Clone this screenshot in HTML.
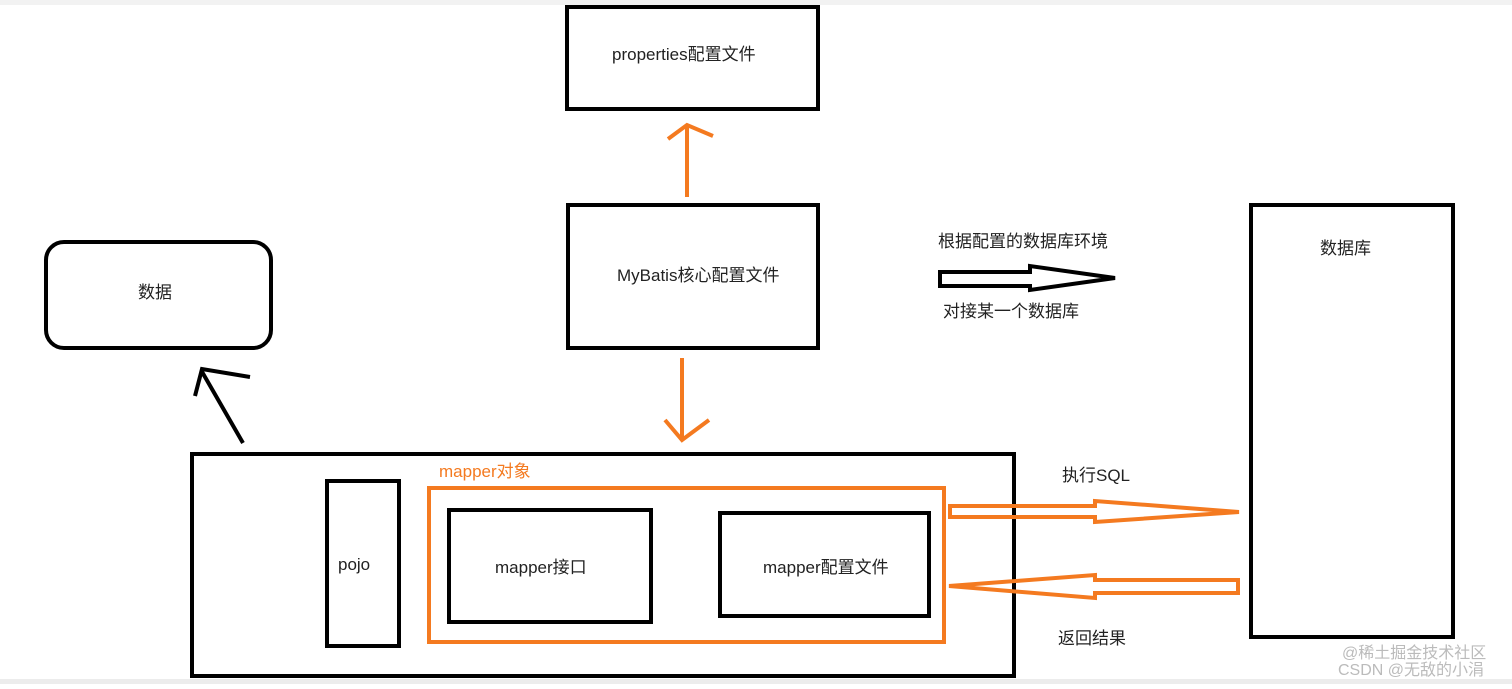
<!DOCTYPE html>
<html><head><meta charset="utf-8"><style>
body{margin:0;background:#fff;width:1512px;height:684px;overflow:hidden}
text{font-family:"Liberation Sans","Noto Sans CJK SC",sans-serif;font-size:17px;fill:#222}
</style></head><body>
<svg width="1512" height="684" xmlns="http://www.w3.org/2000/svg">
<rect x="0" y="0" width="1512" height="5" fill="#f2f2f2"/>
<rect x="0" y="679" width="1512" height="5" fill="#ececec"/>
<g fill="none" stroke="#000" stroke-width="4">
<rect x="567" y="7" width="251" height="102"/>
<rect x="568" y="205" width="250" height="143"/>
<rect x="46" y="242" width="225" height="106" rx="18"/>
<rect x="1251" y="205" width="202" height="432"/>
<rect x="192" y="454" width="822" height="222"/>
<rect x="327" y="481" width="72" height="165"/>
<rect x="449" y="510" width="202" height="112"/>
<rect x="720" y="513" width="209" height="103"/>
<path d="M243 443 L201 370 M195 396 L202 369 L250 377" stroke-width="4"/>
<path d="M940 272 H1030 V266 L1115 278 L1030 290 V286 H940 Z" stroke-width="4"/>
</g>
<g fill="none" stroke="#f47a20" stroke-width="4">
<rect x="429" y="488" width="515" height="154"/>
<path d="M687 197 V126 M668 139 L687 125 L713 136"/>
<path d="M682 358 V440 M665 420 L682 440 L709 420"/>
<path d="M950 506 H1095 V501 L1239 512 L1095 522 V517 H950 Z"/>
<path d="M1238 580 H1095 V575 L949 586 L1095 598 V593 H1238 Z"/>
</g>
<text x="612" y="60">properties配置文件</text>
<text x="617" y="281">MyBatis核心配置文件</text>
<text x="138" y="298">数据</text>
<text x="1320" y="254">数据库</text>
<text x="938" y="247">根据配置的数据库环境</text>
<text x="943" y="317">对接某一个数据库</text>
<text x="439" y="477" style="fill:#f47a20">mapper对象</text>
<text x="338" y="570">pojo</text>
<text x="495" y="573">mapper接口</text>
<text x="763" y="573">mapper配置文件</text>
<text x="1062" y="481">执行SQL</text>
<text x="1058" y="644">返回结果</text>
<text x="1342" y="658" style="fill:#bbb;font-size:16px">@稀土掘金技术社区</text>
<text x="1338" y="675" style="fill:#bbb;font-size:16px">CSDN @无敌的小涓</text>
</svg>
</body></html>
